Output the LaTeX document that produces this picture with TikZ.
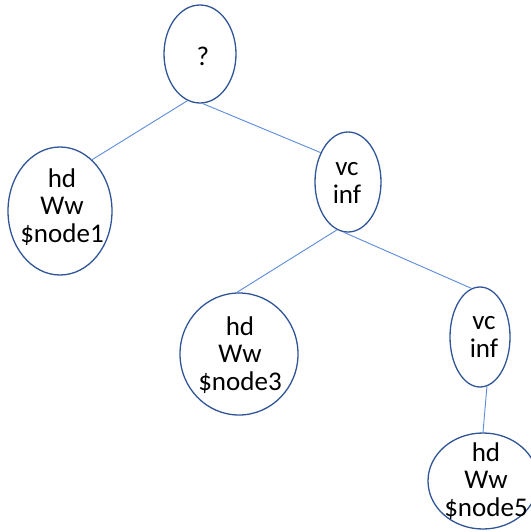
\documentclass[tikz,border=0pt]{standalone}
\usepackage{fontspec}
\setmainfont{Carlito}
\usetikzlibrary{shapes.geometric}
\definecolor{ringblue}{HTML}{2F5597}
\definecolor{edgeblue}{HTML}{5B8BD9}
\begin{document}
\begin{tikzpicture}[x=1pt,y=-1pt,
  tnode/.style={ellipse, draw=ringblue, line width=1.3pt, inner sep=0pt},
  ttext/.style={inner sep=0pt, align=center, font=\fontsize{27}{27.5}\selectfont},
  tedge/.style={draw=edgeblue, line width=0.9pt}]
\useasboundingbox (0,0) rectangle (530,532);
\node[tnode, minimum width=72pt, minimum height=98pt] (root) at (200,54) {};
\node[tnode, minimum width=104pt, minimum height=128pt] (n1) at (60,211) {};
\node[tnode, minimum width=66pt, minimum height=100pt] (vc1) at (348,182) {};
\node[tnode, minimum width=118pt, minimum height=122pt] (n3) at (239,354) {};
\node[tnode, minimum width=60pt, minimum height=100pt] (vc2) at (480,337) {};
\node[tnode, minimum width=110pt, minimum height=96pt] (n5) at (483,481) {};
\node[ttext] (roott) at (203,56) {?};
\node[ttext] (n1t) at (62,207) {hd\\Ww\\\$node1};
\node[ttext] (vc1t) at (347,183) {vc\\inf};
\node[ttext] (n3t) at (240,355) {hd\\Ww\\\$node3};
\node[ttext] (vc2t) at (484,337) {vc\\inf};
\node[ttext] (n5t) at (486,481) {hd\\Ww\\\$node5};
\draw[tedge] (root.255) -- (n1.58);
\draw[tedge] (root.273) -- (vc1.133);
\draw[tedge] (vc1.257) -- (n3.92);
\draw[tedge] (vc1.265) -- (vc2.100);
\draw[tedge] (vc2.278) -- (n5.90);
\end{tikzpicture}
\end{document}
